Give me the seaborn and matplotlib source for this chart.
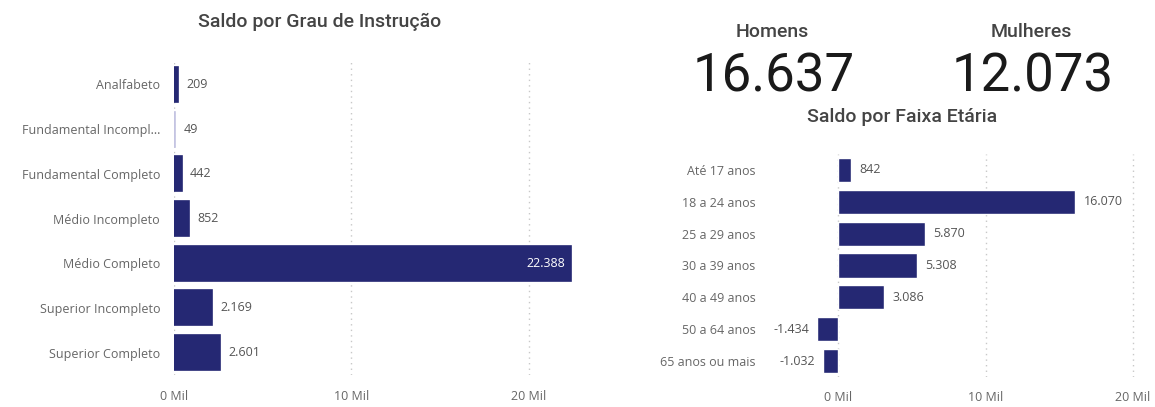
import pandas as pd
import matplotlib.pyplot as plt
import seaborn as sns

sns.set_style("white")
plt.rcParams["font.family"] = ["Open Sans", "DejaVu Sans"]

# Saldo por Grau de Instrução
instrucao = ["Analfabeto", "Fundamental Incompl...", "Fundamental Completo",
             "Médio Incompleto", "Médio Completo", "Superior Incompleto",
             "Superior Completo"]
saldo_instrucao = [209, 49, 442, 852, 22388, 2169, 2601]

# Saldo por Faixa Etária
faixas = ["Até 17 anos", "18 a 24 anos", "25 a 29 anos", "30 a 39 anos",
          "40 a 49 anos", "50 a 64 anos", "65 anos ou mais"]
saldo_faixa = [842, 16070, 5870, 5308, 3086, -1434, -1032]

# KPIs
kpi_labels = ["Homens", "Mulheres"]
kpi_values = ["16.637", "12.073"]

NAVY = "#252873"
LIGHT = "#c4c4e2"
GREY = "#555555"
TICK = "#666666"
FS = 9


def fmt(v):
    return f"{v:,.0f}".replace(",", ".")


def style_axes(ax, ticks, pad_x, pad_y):
    ax.set_xticks(ticks)
    ax.set_xticklabels([f"{t // 1000} Mil" for t in ticks])
    ax.grid(axis="x", linestyle=(0, (1, 3)), color="#c8c8c8", linewidth=1)
    ax.set_axisbelow(True)
    for s in ax.spines.values():
        s.set_visible(False)
    ax.set_xlabel("")
    ax.set_ylabel("")
    ax.tick_params(axis="x", length=0, pad=pad_x, labelsize=FS, labelcolor=TICK)
    ax.tick_params(axis="y", length=0, pad=pad_y, labelsize=FS, labelcolor=TICK)


fig = plt.figure(figsize=(11.55, 4.07), dpi=100)

# left chart
df1 = pd.DataFrame({"cat": instrucao, "val": saldo_instrucao})
ax1 = fig.add_axes([174 / 1155, 1 - 375 / 407, 401 / 1155, 313 / 407])
colors1 = [LIGHT if v < 100 else NAVY for v in saldo_instrucao]
sns.barplot(data=df1, y="cat", x="val", hue="cat", palette=colors1,
            legend=False, orient="h", width=0.78, ax=ax1, saturation=1)
for p, c in zip(ax1.patches, colors1):
    p.set_edgecolor(c)
    p.set_linewidth(1.2)
ax1.set_xlim(0, 22600)
ax1.set_ylim(6.5, -0.5)
style_axes(ax1, [0, 10000, 20000], 11, 10)
vmax = max(saldo_instrucao)
for i, v in enumerate(saldo_instrucao):
    if v == vmax:
        ax1.annotate(fmt(v), (v, i), xytext=(-4, 0), textcoords="offset points",
                     ha="right", va="center", color="white", fontsize=FS)
    else:
        ax1.annotate(fmt(v), (v, i), xytext=(6, 0), textcoords="offset points",
                     ha="left", va="center", color=GREY, fontsize=FS)
fig.text(320 / 1155, 1 - 22 / 407, "Saldo por Grau de Instrução", ha="center",
         va="center", fontsize=14, color="#444444", family="Roboto",
         fontweight="medium")

# right chart
df2 = pd.DataFrame({"cat": faixas, "val": saldo_faixa})
ax2 = fig.add_axes([775 / 1155, 1 - 377 / 407, 364 / 1155, 223 / 407])
sns.barplot(data=df2, y="cat", x="val", color=NAVY, orient="h", width=0.76,
            ax=ax2, saturation=1)
ax2.set_xlim(-4300, 20400)
ax2.set_ylim(6.5, -0.5)
style_axes(ax2, [0, 10000, 20000], 10, 14)
for i, v in enumerate(saldo_faixa):
    off = 6 if v >= 0 else -6
    ax2.annotate(fmt(v), (v, i), xytext=(off, 0), textcoords="offset points",
                 ha="left" if v >= 0 else "right", va="center", color=GREY,
                 fontsize=FS)
fig.text(902 / 1155, 1 - 117 / 407, "Saldo por Faixa Etária", ha="center",
         va="center", fontsize=14, color="#444444", family="Roboto",
         fontweight="medium")

# KPI cards
for lbl, val, xc in zip(kpi_labels, kpi_values, [772, 1031]):
    fig.text(xc / 1155, 1 - 32 / 407, lbl, ha="center", va="center",
             fontsize=14, color="#444444", family="Roboto",
             fontweight="medium")
    fig.text((xc + 2) / 1155, 1 - 77 / 407, val, ha="center", va="center",
             fontsize=38, color="#1a1a1a", family="Roboto")

fig.savefig("out.png", dpi=100, facecolor="white")
